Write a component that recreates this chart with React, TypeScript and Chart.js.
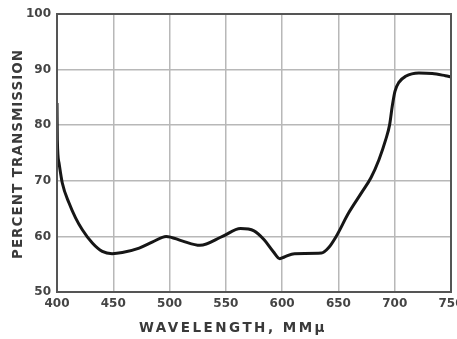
import React, { useEffect, useRef } from "react";
import { Chart, registerables } from "chart.js";

Chart.register(...registerables);

const wavelengths = [400, 400.3, 401.8, 404.7, 410.7, 416.6, 422.5, 431.4, 440.2, 449, 458, 473, 485, 497, 511, 527, 547, 563, 575, 584, 592, 598, 602, 611, 635, 641, 648, 659, 671, 679, 686, 692, 695.5, 697.8, 700.2, 703.7, 709.7, 721.5, 733.3, 745, 750];
const transmission = [84, 77.4, 73.2, 69.6, 66.0, 63.3, 61.2, 58.8, 57.3, 56.9, 57.1, 57.9, 59.0, 60.0, 59.2, 58.4, 60.0, 61.4, 61.0, 59.4, 57.3, 56.0, 56.3, 56.9, 57.0, 57.9, 60.0, 64.2, 68.0, 70.6, 73.8, 77.4, 80.1, 83.4, 86.1, 87.7, 88.8, 89.4, 89.3, 88.9, 88.7];
const xTitle = "WAVELENGTH, MMμ";
const yTitle = "PERCENT TRANSMISSION";

const titlePlugin = {
  id: "axisTitles",
  afterDraw(chart: any) {
    const ctx = chart.ctx as CanvasRenderingContext2D;
    ctx.save();
    ctx.fillStyle = "#3a3a3a";
    ctx.font = '600 13.5px "DejaVu Sans"';
    ctx.textAlign = "center";
    ctx.textBaseline = "middle";
    (ctx as any).letterSpacing = "2.5px";
    ctx.fillText(xTitle, 233, 328);
    (ctx as any).letterSpacing = "1px";
    ctx.translate(18, 154);
    ctx.rotate(-Math.PI / 2);
    ctx.fillText(yTitle, 0, 0);
    ctx.restore();
  },
};

const framePlugin = {
  id: "frame",
  afterDatasetsDraw(chart: any) {
    const { ctx, chartArea } = chart;
    ctx.save();
    ctx.strokeStyle = "#555";
    ctx.lineWidth = 2;
    ctx.strokeRect(chartArea.left, chartArea.top, chartArea.right - chartArea.left, chartArea.bottom - chartArea.top);
    ctx.restore();
  },
};

export default function App() {
  const ref = useRef<HTMLCanvasElement>(null);
  useEffect(() => {
    if (!ref.current) return;
    const pts = wavelengths.map((w, i) => ({ x: w, y: transmission[i] }));
    const tickFont = { family: '"DejaVu Sans"', size: 12, weight: "bold" as const };
    const chart = new Chart(ref.current, {
      type: "line",
      data: {
        datasets: [
          {
            data: pts,
            borderColor: "#161616",
            borderWidth: 3,
            pointRadius: 0,
            fill: false,
            cubicInterpolationMode: "monotone",
          },
        ],
      },
      options: {
        animation: false,
        responsive: false,
        layout: { padding: { top: 14, right: 6, left: 0, bottom: 0 } },
        plugins: { legend: { display: false }, tooltip: { enabled: false } },
        scales: {
          x: {
            type: "linear",
            min: 400,
            max: 750,
            afterFit: (s: any) => { s.height = 47; s.paddingLeft = 0; s.paddingRight = 0; },
            ticks: { stepSize: 50, font: tickFont, color: "#444", padding: 5, maxRotation: 0 },
            grid: { color: "#b8b8b8", lineWidth: 1.5, drawTicks: false },
            border: { display: false },
          },
          y: {
            min: 50,
            max: 100,
            afterFit: (s: any) => { s.width = 57; },
            ticks: { stepSize: 10, font: tickFont, color: "#444", padding: 6 },
            grid: { color: "#b8b8b8", lineWidth: 1.5, drawTicks: false },
            border: { display: false },
          },
        },
      },
      plugins: [framePlugin, titlePlugin],
    });
    return () => chart.destroy();
  }, []);
  return (
    <div style={{ position: "absolute", left: 0, top: 0, width: 457, height: 339, background: "#fff" }}>
      <canvas ref={ref} width={457} height={339} style={{ display: "block" }} />
    </div>
  );
}
